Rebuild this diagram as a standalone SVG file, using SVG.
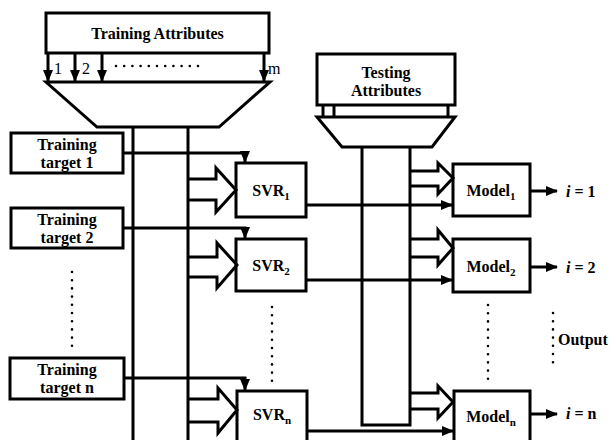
<svg xmlns="http://www.w3.org/2000/svg" width="609" height="440" viewBox="0 0 609 440">
  <style>
    .box { fill: #fff; stroke: #000; stroke-width: 3; }
    .ln { fill: none; stroke: #000; stroke-width: 3; }
    .arr { fill: none; stroke: #000; stroke-width: 3; marker-end: url(#ah); }
    .blk { fill: none; stroke: #000; stroke-width: 3; stroke-linejoin: miter; }
    .dots { fill: none; stroke: #000; stroke-width: 2.6; stroke-linecap: round; stroke-dasharray: 0 8.2; }
    .t, .o { font-family: "Liberation Serif", "Times New Roman", serif; font-weight: bold; font-size: 16px; fill: #000; }
    .t { text-anchor: middle; }
    .o { text-anchor: start; }
    .n { font-family: "Liberation Serif", "Times New Roman", serif; font-size: 16px; fill: #000; }
    .sub { font-size: 11px; }
  </style>
  <defs>
    <marker id="ah" markerUnits="userSpaceOnUse" markerWidth="12" markerHeight="10" refX="11" refY="5" orient="auto">
      <path d="M0,0 L12,5 L0,10 Z" fill="#000"/>
    </marker>
  </defs>

  <!-- training attribute source with its feature funnel -->
  <g id="training-attributes">
    <rect class="box" x="46" y="13" width="223" height="40"/>
    <text class="t" x="157.5" y="39">Training Attributes</text>
    <path class="box" d="M46,82 H270 L219,127 H97 Z"/>
    <line class="arr" x1="48" y1="53" x2="48" y2="81"/>
    <line class="arr" x1="75" y1="53" x2="75" y2="81"/>
    <line class="arr" x1="102" y1="53" x2="102" y2="81"/>
    <line class="arr" x1="264" y1="53" x2="264" y2="81"/>
    <text class="n" x="54" y="74">1</text>
    <text class="n" x="82" y="74">2</text>
    <text class="n" x="268" y="74">m</text>
    <line class="dots" x1="116" y1="66" x2="200" y2="66"/>
  </g>

  <!-- testing attribute source with its funnel -->
  <g id="testing-attributes">
    <rect class="box" x="317" y="54" width="138" height="51"/>
    <text class="t" x="386" y="78">Testing</text>
    <text class="t" x="386" y="96">Attributes</text>
    <path class="ln" d="M323,105 V117 M334,105 V117 M448,105 V117"/>
    <path class="box" d="M317,117 H455 L432,147 H342 Z"/>
  </g>

  <!-- training targets -->
  <g id="target-1">
    <rect class="box" x="11" y="133" width="112" height="40"/>
    <text class="t" x="67" y="150">Training</text>
    <text class="t" x="67" y="168">target 1</text>
  </g>
  <g id="target-2">
    <rect class="box" x="11" y="208" width="112" height="40"/>
    <text class="t" x="67" y="225">Training</text>
    <text class="t" x="67" y="243">target 2</text>
  </g>
  <g id="target-n">
    <rect class="box" x="10" y="358" width="114" height="41"/>
    <text class="t" x="67" y="375">Training</text>
    <text class="t" x="67" y="393">target n</text>
  </g>

  <!-- SVR trainers -->
  <g id="svr-1">
    <rect class="box" x="236" y="163" width="70" height="54"/>
    <text class="t" x="271" y="196">SVR<tspan class="sub" dy="4">1</tspan></text>
  </g>
  <g id="svr-2">
    <rect class="box" x="236" y="239" width="70" height="52"/>
    <text class="t" x="271" y="271">SVR<tspan class="sub" dy="4">2</tspan></text>
  </g>
  <g id="svr-n">
    <rect class="box" x="237" y="391" width="70" height="60"/>
    <text class="t" x="272" y="420">SVR<tspan class="sub" dy="4">n</tspan></text>
  </g>

  <!-- trained models -->
  <g id="model-1">
    <rect class="box" x="453" y="164" width="77" height="52"/>
    <text class="t" x="491" y="196">Model<tspan class="sub" dy="4">1</tspan></text>
  </g>
  <g id="model-2">
    <rect class="box" x="453" y="239" width="77" height="53"/>
    <text class="t" x="491" y="272">Model<tspan class="sub" dy="4">2</tspan></text>
  </g>
  <g id="model-n">
    <rect class="box" x="454" y="391" width="76" height="60"/>
    <text class="t" x="491" y="422">Model<tspan class="sub" dy="4">n</tspan></text>
  </g>

  <!-- outputs -->
  <g id="outputs">
    <text class="o" x="566" y="197"><tspan font-style="italic">i</tspan> = 1</text>
    <text class="o" x="566" y="273"><tspan font-style="italic">i</tspan> = 2</text>
    <text class="o" x="566" y="419"><tspan font-style="italic">i</tspan> = n</text>
    <text class="o" x="558" y="345">Output</text>
    <line class="dots" x1="553" y1="313" x2="553" y2="364"/>
  </g>

  <g id="connectors">
    <!-- training attribute buses -->
    <line class="ln" x1="133" y1="127" x2="133" y2="442"/>
    <line class="ln" x1="188" y1="127" x2="188" y2="442"/>
    <!-- testing attribute bus -->
    <path class="ln" d="M362,147 V425 H410 V147"/>

    <!-- targets to SVRs -->
    <path class="arr" d="M123,153 H245 V162"/>
    <path class="arr" d="M123,228 H245 V238"/>
    <path class="arr" d="M124,378 H245 V390"/>

    <!-- attribute block arrows into SVRs -->
    <path class="blk" d="M188,179 H216 V168 L236,190 L216,212 V200 H188"/>
    <path class="blk" d="M188,257 H217 V243 L237,265 L217,288 V277 H188"/>
    <path class="blk" d="M188,399 H218 V388 L237,410 L218,433 V422 H188"/>

    <!-- attribute block arrows into models -->
    <path class="blk" d="M410,171 H438 V163 L453,178 L438,194 V186 H410"/>
    <path class="blk" d="M410,239 H438 V230 L453,248 L438,265 V257 H410"/>
    <path class="blk" d="M410,393 H438 V386 L453,402 L438,418 V409 H410"/>

    <!-- SVRs to models -->
    <path class="arr" d="M306,205 H452"/>
    <path class="arr" d="M306,280 H452"/>
    <path class="arr" d="M307,431 H453"/>

    <!-- models to outputs -->
    <line class="arr" x1="530" y1="191" x2="557" y2="191"/>
    <line class="arr" x1="530" y1="267" x2="557" y2="267"/>
    <line class="arr" x1="530" y1="414" x2="557" y2="414"/>

    <!-- ellipses -->
    <line class="dots" x1="72" y1="272" x2="72" y2="347"/>
    <line class="dots" x1="272" y1="307" x2="272" y2="382"/>
    <line class="dots" x1="488" y1="305" x2="488" y2="380"/>
  </g>
</svg>
